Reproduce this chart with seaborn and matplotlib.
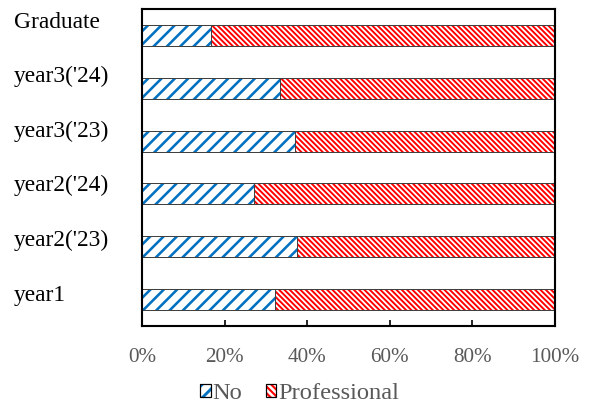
import matplotlib
matplotlib.use("Agg")
import matplotlib.pyplot as plt
import matplotlib.transforms as mtransforms
from matplotlib.patches import Patch
from matplotlib.legend_handler import HandlerTuple
import numpy as np
import pandas as pd
import seaborn as sns

# Share of respondents per cohort (percent)
categories = ["Graduate", "year3('24)", "year3('23)", "year2('24)", "year2('23)", "year1"]
no_share = [16.8, 33.3, 37.0, 27.0, 37.6, 32.1]
professional_share = [83.2, 66.7, 63.0, 73.0, 62.4, 67.9]
x_ticks = [0, 20, 40, 60, 80, 100]
x_tick_labels = ["0%", "20%", "40%", "60%", "80%", "100%"]
series_names = ["No", "Professional"]

BLUE = "#0070C0"
RED = "#FF0000"
OUTLINE = "#404040"
GREY_TEXT = "#595959"

HATCH_NO = "//"
HATCH_PROF = "\\" * 5
HLW_NO = 2.3
HLW_PROF = 1.75

sns.set_theme(style="white")
plt.rcParams["font.family"] = ["Liberation Serif", "DejaVu Serif"]

df = pd.DataFrame({
    "cohort": categories,
    "no": no_share,
    "total": [n + p for n, p in zip(no_share, professional_share)],
})

DPI = 80
fig = plt.figure(figsize=(592 / DPI, 411 / DPI), dpi=DPI)
ax = fig.add_axes([142 / 592, 1 - 326 / 411, 413 / 592, 317 / 411])

BAR_W = 0.4


def style_patch(p, edge, hatch, hlw):
    p.set_facecolor("white")
    p.set_edgecolor(edge)
    p.set_linewidth(0)
    p.set_hatch(hatch)
    if hasattr(p, "set_hatch_linewidth"):
        p.set_hatch_linewidth(hlw)


# Professional segment: full stacked length, later covered on the left by "No"
plt.rcParams["hatch.linewidth"] = HLW_PROF
sns.barplot(data=df, x="total", y="cohort", order=categories, orient="h",
            errorbar=None, width=BAR_W, ax=ax, color="white")
for p in ax.patches:
    style_patch(p, RED, HATCH_PROF, HLW_PROF)

n_before = len(ax.patches)
plt.rcParams["hatch.linewidth"] = HLW_NO
sns.barplot(data=df, x="no", y="cohort", order=categories, orient="h",
            errorbar=None, width=BAR_W, ax=ax, color="white")
for p in ax.patches[n_before:]:
    style_patch(p, BLUE, HATCH_NO, HLW_NO)

# Thin dark outlines around each segment
sns.barplot(data=df, x="total", y="cohort", order=categories, orient="h",
            errorbar=None, width=BAR_W, ax=ax, fill=False, color=OUTLINE, linewidth=0.9)
sns.barplot(data=df, x="no", y="cohort", order=categories, orient="h",
            errorbar=None, width=BAR_W, ax=ax, fill=False, color=OUTLINE, linewidth=0.9)

ax.set_xlim(0, 100)
ax.set_ylim(len(categories) - 0.5, -0.5)
ax.set_xlabel("")
ax.set_ylabel("")
ax.set_xticks(x_ticks)
ax.set_xticklabels(x_tick_labels, color=GREY_TEXT, fontsize=19)
ax.tick_params(axis="x", direction="in", length=5, width=1.5, color="black",
               pad=19.5, bottom=True, top=False)
ax.set_yticks([])

for s in ax.spines.values():
    s.set_visible(True)
    s.set_color("black")
    s.set_linewidth(1.9)

# Category labels, left-aligned in the margin
lab_trans = mtransforms.blended_transform_factory(fig.transFigure, ax.transAxes)
label_y = np.linspace((326 - 22) / 317, (326 - 295) / 317, len(categories))
for name, yy in zip(categories, label_y):
    ax.text(14 / 592, yy, name, transform=lab_trans, ha="left", va="center",
            fontsize=21, color="black")


class HatchedSwatch(HandlerTuple):
    """Overlay the tuple's patches and keep each one's hatch width."""

    def create_artists(self, legend, orig_handle, xdescent, ydescent,
                       width, height, fontsize, trans):
        artists = super().create_artists(legend, orig_handle, xdescent, ydescent,
                                         width, height, fontsize, trans)
        for a, src in zip(artists, orig_handle):
            a.set_hatch(src.get_hatch())
            a.set_edgecolor(src.get_edgecolor())
            a.set_facecolor(src.get_facecolor())
            a.set_linewidth(src.get_linewidth())
            if hasattr(a, "set_hatch_linewidth") and hasattr(src, "get_hatch_linewidth"):
                a.set_hatch_linewidth(src.get_hatch_linewidth())
        return artists


# Legend: hatched swatch with a black frame on top
plt.rcParams["hatch.linewidth"] = 2.6
h_no = Patch(facecolor="white", edgecolor=BLUE, hatch="//", linewidth=0)
plt.rcParams["hatch.linewidth"] = 1.9
h_prof = Patch(facecolor="white", edgecolor=RED, hatch="\\" * 4, linewidth=0)
frame_a = Patch(facecolor="none", edgecolor="black", linewidth=1.1)
frame_b = Patch(facecolor="none", edgecolor="black", linewidth=1.1)
leg = fig.legend([(h_no, frame_a), (h_prof, frame_b)], series_names,
                 handler_map={tuple: HatchedSwatch(ndivide=1)},
                 loc="center", ncol=2, frameon=False,
                 bbox_to_anchor=(0.506, 0.042), bbox_transform=fig.transFigure,
                 fontsize=22, handlelength=0.42, handleheight=0.42,
                 handletextpad=0.08, columnspacing=0.95, labelcolor=GREY_TEXT,
                 borderpad=0, borderaxespad=0)

fig.savefig("out.png", dpi=DPI)
